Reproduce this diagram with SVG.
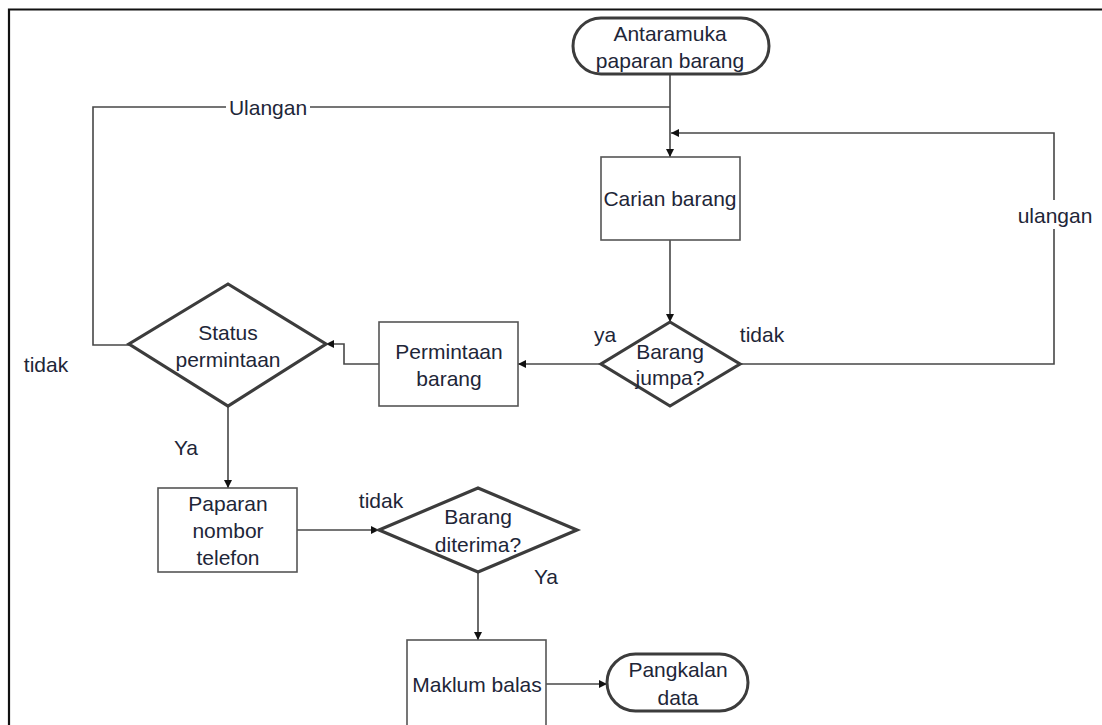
<svg xmlns="http://www.w3.org/2000/svg" width="1102" height="725" viewBox="0 0 1102 725">
  <defs>
    <marker id="arrow" viewBox="0 0 10 10" refX="10" refY="5" markerWidth="8" markerHeight="8" markerUnits="userSpaceOnUse" orient="auto">
      <path d="M0,0 L10,5 L0,10 Z" fill="#111"/>
    </marker>
    <style>
      text { font-family: "Liberation Sans", Arial, sans-serif; font-size: 21px; fill: #1e2638; text-anchor: middle; dominant-baseline: central; }
      .box { fill: #fff; stroke: #555; stroke-width: 1.6; }
      .dec { fill: #fff; stroke: #3c3c3c; stroke-width: 3.2; stroke-linejoin: miter; }
      .term { fill: #fff; stroke: #3c3c3c; stroke-width: 3; }
      .edge { fill: none; stroke: #474747; stroke-width: 1.6; }
      .arr { marker-end: url(#arrow); }
    </style>
  </defs>

  <rect width="1102" height="725" fill="#fff"/>
  <!-- page frame -->
  <path d="M9,725 V9.5 H1102" fill="none" stroke="#111" stroke-width="2.2"/>

  <g id="connectors">
    <path class="edge arr" d="M670,74 V157"/>
    <!-- Ulangan loop (left) -->
    <path class="edge" d="M129,345 H93 V107 H226"/>
    <path class="edge" d="M310,107 H670"/>
    <!-- ulangan loop (right) -->
    <path class="edge" d="M740,364 H1054 V229"/>
    <path class="edge arr" d="M1054,200 V133 H671"/>
    <path class="edge arr" d="M670,240 V322"/>
    <path class="edge arr" d="M601,364 H518"/>
    <path class="edge arr" d="M379,364 H344 V344 H326"/>
    <path class="edge arr" d="M228,406 V488"/>
    <path class="edge arr" d="M297,530 H379"/>
    <path class="edge arr" d="M478,572 V640"/>
    <path class="edge arr" d="M546,684 H607"/>
  </g>

  <g id="n-start">
    <rect class="term" x="573" y="18" width="196" height="56" rx="28"/>
    <text x="670" y="33">Antaramuka</text>
    <text x="670" y="60">paparan barang</text>
  </g>

  <g id="n-carian">
    <rect class="box" x="601" y="157" width="139" height="83"/>
    <text x="670" y="198">Carian barang</text>
  </g>

  <g id="n-jumpa">
    <polygon class="dec" points="670,322 740,364 670,406 601,364"/>
    <text x="670" y="351">Barang</text>
    <text x="670" y="377">jumpa?</text>
  </g>

  <g id="n-permintaan">
    <rect class="box" x="379" y="322" width="139" height="84"/>
    <text x="449" y="351">Permintaan</text>
    <text x="449" y="378">barang</text>
  </g>

  <g id="n-status">
    <polygon class="dec" points="228,284 326,344 228,406 129,344"/>
    <text x="228" y="332">Status</text>
    <text x="228" y="359">permintaan</text>
  </g>

  <g id="n-paparan">
    <rect class="box" x="158" y="488" width="139" height="84"/>
    <text x="228" y="503">Paparan</text>
    <text x="228" y="530">nombor</text>
    <text x="228" y="557">telefon</text>
  </g>

  <g id="n-diterima">
    <polygon class="dec" points="478,488 577,530 478,572 379,530"/>
    <text x="478" y="516">Barang</text>
    <text x="478" y="544">diterima?</text>
  </g>

  <g id="n-maklum">
    <rect class="box" x="407" y="640" width="139" height="86"/>
    <text x="477" y="684">Maklum balas</text>
  </g>

  <g id="n-pangkalan">
    <rect class="term" x="607" y="654" width="141" height="57" rx="28.5"/>
    <text x="678" y="669">Pangkalan</text>
    <text x="678" y="697">data</text>
  </g>

  <g id="labels">
    <text x="268" y="107">Ulangan</text>
    <text x="1055" y="215">ulangan</text>
    <text x="605" y="334">ya</text>
    <text x="762" y="334">tidak</text>
    <text x="46" y="364">tidak</text>
    <text x="186" y="447">Ya</text>
    <text x="381" y="500">tidak</text>
    <text x="546" y="576">Ya</text>
  </g>
</svg>
